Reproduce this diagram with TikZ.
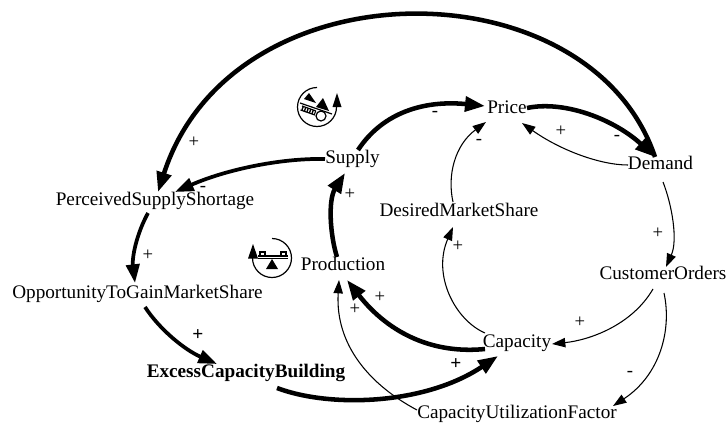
\documentclass[tikz,border=0pt]{standalone}
\usepackage{fontspec}
\setmainfont{Liberation Serif}
\usetikzlibrary{arrows.meta,calc}
\tikzset{
  var/.style={inner sep=0pt,text height=10.2pt,text depth=2pt,font=\fontsize{14.4}{16}\selectfont},
  sgn/.style={inner sep=0pt,font=\fontsize{14}{14}\selectfont},
  sgnb/.style={inner sep=0pt,font=\fontsize{14.5}{14}\selectfont\bfseries},
  thick link/.style={line width=3.4pt,-{Triangle[length=15pt,width=11pt]}},
  mid link/.style={line width=2.8pt,-{Triangle[length=14pt,width=10pt]}},
  thin link/.style={line width=0.8pt,-{Triangle[length=10pt,width=7pt]}},
  icon/.style={line width=0.9pt}
}
\begin{document}
\begin{tikzpicture}[x=0.75pt,y=-0.75pt]
\useasboundingbox (0,0) rectangle (728,425);
\node[var] (price) at (507,108) {Price};
\node[var] (demand) at (660.5,164) {Demand};
\node[var] (supply) at (352.5,158) {Supply};
\node[var] (pss) at (155,200) {PerceivedSupplyShortage};
\node[var] (otg) at (137.5,293) {OpportunityToGainMarketShare};
\node[var,font=\fontsize{14.4}{16}\selectfont\bfseries] (ecb) at (246,372) {ExcessCapacityBuilding};
\node[var] (cap) at (517,342) {Capacity};
\node[var] (cuf) at (517,413) {CapacityUtilizationFactor};
\node[var] (prod) at (343,265) {Production};
\node[var] (dms) at (459,211) {DesiredMarketShare};
\node[var] (co) at (663,274) {CustomerOrders};
% thick links
\draw[thick link] ($(demand)+(-5.5,-7)$) .. controls (590,-36) and (232,-38) .. ($(pss)+(3,-8)$);
\draw[mid link] ($(pss)+(-7,13)$) .. controls (136,235) and (132,258) .. ($(otg)+(-2.5,-10)$);
\draw[mid link] ($(otg)+(7.5,14)$) .. controls (160,330) and (185,350) .. ($(ecb)+(-29,-8)$);
\draw[thick link] ($(ecb)+(31,16)$) .. controls (330,408) and (425,405) .. ($(cap)+(-19,14)$);
\draw[thick link] ($(cap)+(-32,7)$) .. controls (435,354) and (390,335) .. ($(prod)+(4,15)$);
\draw[thick link] ($(prod)+(-6,-8)$) .. controls (330,235) and (328,200) .. ($(supply)+(-7.5,15)$);
\draw[mid link] ($(supply)+(-27.5,1)$) .. controls (280,158) and (225,170) .. ($(pss)+(20,-8)$);
\draw[thick link] ($(supply)+(5.5,-8)$) .. controls (383,112) and (425,100) .. ($(price)+(-22,-2)$);
\draw[thick link] ($(price)+(20,0)$) .. controls (565,100) and (615,120) .. ($(demand)+(-5.5,-7)$);
% thin links
\draw[thin link] ($(demand)+(-32.5,1)$) .. controls (600,165) and (560,150) .. ($(price)+(15,15)$);
\draw[thin link] ($(dms)+(-6,-9)$) .. controls (447,175) and (455,145) .. ($(price)+(-21,14)$);
\draw[thin link] ($(demand)+(2.5,18)$) .. controls (672,205) and (678,240) .. ($(co)+(3,-7)$);
\draw[thin link] ($(co)+(-10,15)$) .. controls (632,325) and (590,340) .. ($(cap)+(35,2)$);
\draw[thin link] ($(co)+(1,19)$) .. controls (672,330) and (660,375) .. ($(cuf)+(96,-7)$);
\draw[thin link] ($(cap)+(-32,-9)$) .. controls (455,320) and (432,275) .. ($(dms)+(-6,16)$);
\draw[thin link] ($(cuf)+(-100,-3)$) .. controls (370,385) and (335,345) .. ($(prod)+(-4,15)$);
% signs
\node[sgn] (s1) at (194,142) {+};
\node[sgn] (s2) at (148,255) {+};
\node[sgnb] (s3) at (198,335) {+};
\node[sgnb] (s4) at (456,364) {+};
\node[sgn] (s5) at (380,297) {+};
\node[sgn] (s6) at (355,309) {+};
\node[sgn] (s7) at (350,194) {+};
\node[sgn] (s8) at (203,189) {-};
\node[sgn] (s9) at (435,114) {-};
\node[sgn] (s10) at (479,142) {-};
\node[sgn] (s11) at (561,131) {+};
\node[sgn] (s12) at (617,138) {-};
\node[sgn] (s13) at (658,233) {+};
\node[sgn] (s14) at (580,322) {+};
\node[sgn] (s15) at (630,374) {-};
\node[sgn] (s16) at (458,246) {+};
% reinforcing icon
\draw[icon] (317,87.5) arc[start angle=-90,end angle=-360,radius=19.5];
\fill (337,93) -- (341.5,107) -- (332.5,107) -- cycle;
\fill (323,98) -- (329,111) -- (316,107) -- cycle;
\fill (309,93) -- (316,103) -- (304,99) -- cycle;
\draw[icon] (300,103) -- (332,114);
\draw[icon] (321,116) circle (5);
\draw[icon] (302,106) -- (316,111) (300.5,110) -- (315,115);
\draw[icon,dash pattern=on 1pt off 1pt,line width=3pt] (302,108) -- (315.5,113);
% balancing icon
\draw[icon] (272,238.5) arc[start angle=-90,end angle=180,radius=19.5];
\fill (253,244) -- (258,258.5) -- (248,258.5) -- cycle;
\draw[icon] (258,256) -- (288,256) (258,258.5) -- (288,258.5);
\draw[icon] (260,252) rectangle (265,256) (281,252) rectangle (286,256);
\fill (272,259) -- (278,269) -- (266,269) -- cycle;
\end{tikzpicture}
\end{document}
